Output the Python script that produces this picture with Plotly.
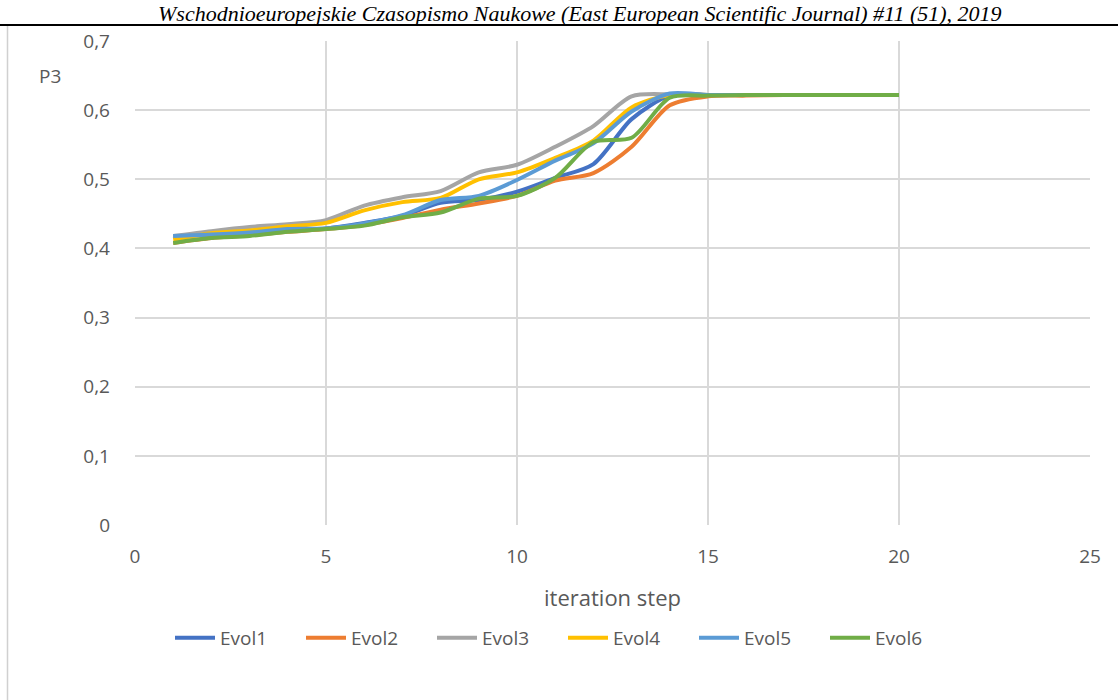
import plotly.graph_objects as go

# Iteration steps and the P3 value of each evolution run
steps = list(range(1, 21))

evol1 = [0.417, 0.420, 0.423, 0.427, 0.429, 0.437, 0.447, 0.466, 0.470, 0.482,
         0.502, 0.522, 0.587, 0.621, 0.622, 0.622, 0.622, 0.622, 0.622, 0.622]
evol2 = [0.408, 0.415, 0.419, 0.424, 0.428, 0.434, 0.444, 0.456, 0.465, 0.476,
         0.498, 0.509, 0.547, 0.607, 0.620, 0.621, 0.622, 0.622, 0.622, 0.622]
evol3 = [0.418, 0.425, 0.431, 0.435, 0.441, 0.462, 0.474, 0.483, 0.510, 0.521,
         0.547, 0.577, 0.620, 0.623, 0.622, 0.622, 0.622, 0.622, 0.622, 0.622]
evol4 = [0.413, 0.422, 0.426, 0.432, 0.437, 0.455, 0.467, 0.473, 0.500, 0.510,
         0.531, 0.556, 0.604, 0.622, 0.622, 0.622, 0.622, 0.622, 0.622, 0.622]
evol5 = [0.418, 0.420, 0.423, 0.428, 0.429, 0.436, 0.448, 0.470, 0.476, 0.499,
         0.527, 0.552, 0.598, 0.624, 0.622, 0.622, 0.622, 0.622, 0.622, 0.622]
evol6 = [0.408, 0.415, 0.418, 0.424, 0.428, 0.433, 0.445, 0.452, 0.472, 0.476,
         0.502, 0.554, 0.560, 0.618, 0.621, 0.622, 0.622, 0.622, 0.622, 0.622]

series_names = ["Evol1", "Evol2", "Evol3", "Evol4", "Evol5", "Evol6"]
series_values = [evol1, evol2, evol3, evol4, evol5, evol6]
series_colors = ["#4472C4", "#ED7D31", "#A5A5A5", "#FFC000", "#5B9BD5", "#70AD47"]

x_ticks = [0, 5, 10, 15, 20, 25]
y_ticks = [0, 0.1, 0.2, 0.3, 0.4, 0.5, 0.6, 0.7]

W, H = 1118, 700
L, R, T, B = 135, 28, 41, 175
PW, PH = W - L - R, H - T - B


def px_x(p):
    return (p - L) / PW


def px_y(p):
    return (H - B - p) / PH


FONT = "'Open Sans', Lato, sans-serif"
TXT = "#595959"
GRID = "#D9D9D9"

fig = go.Figure()
for name, vals, col in zip(series_names, series_values, series_colors):
    fig.add_trace(go.Scatter(
        x=steps, y=vals, name=name, mode="lines",
        line=dict(color=col, width=4, shape="spline", smoothing=0.8),
        hoverinfo="skip",
    ))

fig.update_layout(
    width=W, height=H,
    margin=dict(l=L, r=R, t=T, b=B),
    paper_bgcolor="white", plot_bgcolor="white",
    separators=", ",
    font=dict(family=FONT, size=19, color=TXT),
    showlegend=True,
    legend=dict(
        orientation="h", x=px_x(170), xanchor="left",
        y=px_y(638), yanchor="middle",
        font=dict(size=19, color=TXT),
        itemwidth=40,
        entrywidth=76, entrywidthmode="pixels",
        bgcolor="rgba(0,0,0,0)",
    ),
    xaxis=dict(
        range=[0, 25], tickvals=x_ticks, showgrid=True, gridcolor=GRID,
        gridwidth=1.5, zeroline=False, showline=False,
        ticks="", ticklabelstandoff=18,
        tickfont=dict(size=19, color=TXT),
        title=dict(text="iteration step", font=dict(size=22, color=TXT), standoff=22),
        fixedrange=True,
    ),
    yaxis=dict(
        range=[0, 0.7], tickvals=y_ticks, tickformat=".1~f",
        showgrid=True, gridcolor=GRID, gridwidth=1.5,
        zeroline=False, showline=False,
        ticks="", ticklabelstandoff=24,
        tickfont=dict(size=19, color=TXT),
        fixedrange=True,
    ),
    shapes=[
        # header rule of the journal page
        dict(type="line", xref="paper", yref="paper",
             x0=px_x(0), x1=px_x(W), y0=px_y(25), y1=px_y(25),
             line=dict(color="black", width=2)),
        # left edge of the chart frame
        dict(type="line", xref="paper", yref="paper",
             x0=px_x(7.5), x1=px_x(7.5), y0=px_y(26), y1=px_y(H),
             line=dict(color="#D0D0D0", width=1.5)),
    ],
    annotations=[
        dict(text="<i>Wschodnioeuropejskie Czasopismo Naukowe (East European Scientific Journal) #11 (51), 2019</i>",
             xref="paper", yref="paper", x=px_x(580), y=px_y(0),
             xanchor="center", yanchor="top", showarrow=False,
             borderpad=0,
             font=dict(family="'Liberation Serif', serif", size=22, color="black"),
             ),
        dict(text="P3", xref="paper", yref="paper", x=px_x(37), y=px_y(76),
             xanchor="left", yanchor="middle", showarrow=False,
             font=dict(size=19, color=TXT)),
    ],
)

fig.write_html("out.html")
